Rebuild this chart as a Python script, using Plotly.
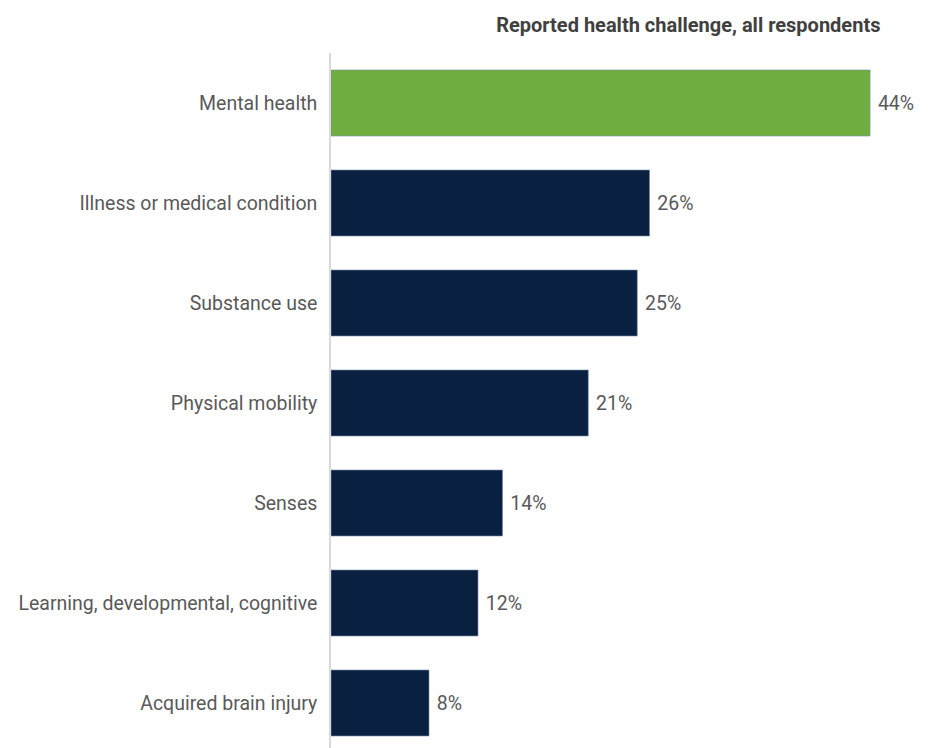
import plotly.graph_objects as go

# survey data
categories = [
    'Mental health',
    'Illness or medical condition',
    'Substance use',
    'Physical mobility',
    'Senses',
    'Learning, developmental, cognitive',
    'Acquired brain injury',
]
percent = [44, 26, 25, 21, 14, 12, 8]
highlight = 'Mental health'

GREEN = '#70AD40'
NAVY = '#0A2041'
FONT = 'Roboto, Arial, sans-serif'

bar_colors = [GREEN if c == highlight else NAVY for c in categories]

# page body has an 8px margin, so the figure is sized to fit inside it
W, H = 924, 740

fig = go.Figure()
fig.add_trace(go.Bar(
    x=percent,
    y=categories,
    orientation='h',
    marker=dict(color=bar_colors, line=dict(color='rgba(120,140,170,0.6)', width=1)),
    text=percent,
    texttemplate='\u00a0%{text}%',
    textposition='outside',
    textfont=dict(family=FONT, size=19.5, color='#595959'),
    cliponaxis=False,
    width=0.66,
    hoverinfo='skip',
))

fig.update_layout(
    width=W,
    height=H,
    margin=dict(l=323, r=10, t=45, b=0, autoexpand=False),
    paper_bgcolor='white',
    plot_bgcolor='white',
    showlegend=False,
    font=dict(family=FONT, size=19.5, color='#595959'),
    title=dict(
        text='<b>Reported health challenge, all respondents</b>',
        font=dict(family=FONT, size=20, color='#404040'),
        x=859 / W, xanchor='right', xref='paper',
        y=1 - 17 / H, yanchor='middle',
    ),
)
fig.update_xaxes(
    range=[0, 48.24],
    visible=False,
    fixedrange=True,
    automargin=False,
)
fig.update_yaxes(
    categoryorder='array',
    categoryarray=categories,
    range=[6.45, -0.5],
    showline=True,
    linecolor='#D9D9D9',
    linewidth=1.5,
    showgrid=False,
    ticks='outside',
    ticklen=8,
    tickcolor='rgba(0,0,0,0)',
    tickfont=dict(family=FONT, size=19.5, color='#595959'),
    fixedrange=True,
    automargin=False,
)

fig.write_html('out.html')
